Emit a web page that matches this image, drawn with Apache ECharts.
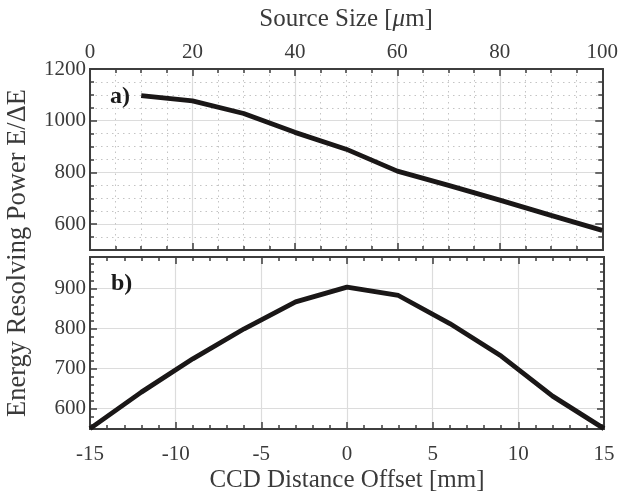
<!DOCTYPE html>
<html>
<head>
<meta charset="utf-8">
<script src="https://cdn.jsdelivr.net/npm/echarts@6/dist/echarts.min.js"></script>
<style>
html,body{margin:0;padding:0;background:#fff;}
#chart{width:621px;height:494px;}
</style>
</head>
<body>
<div id="chart"></div>
<script>
// ---- data ----
var sourceSize = [10, 20, 30, 40, 50, 60, 70, 80, 90, 100];
var powerA = [1097, 1077, 1028, 955, 890, 805, 750, 693, 634, 576];
var ccdOffset = [-15, -12, -9, -6, -3, 0, 3, 6, 9, 12, 15];
var powerB = [550, 641, 724, 799, 866, 903, 882, 812, 731, 631, 550];
var topTickLabels = [600, 800, 1000, 1200];
var bottomTickLabels = [600, 700, 800, 900];
var topMinorTicks = [550, 600, 650, 700, 750, 800, 850, 900, 950, 1000, 1050, 1100, 1150];
var bottomMinorTicks = [560, 580, 600, 620, 640, 660, 680, 700, 720, 740, 760, 780, 800, 820, 840, 860, 880, 900, 920, 940, 960];

var FONT = '"Liberation Serif", "Times New Roman", serif';
var AX = '#3d3d3d';
var TXT = '#3a3a3a';
var GRIDC = '#dcdcdc';

function pairs(xs, ys) { return xs.map(function (x, i) { return [x, ys[i]]; }); }
function plain(v) { return String(v); }

function xAx(grid, pos, min, max, interval, minorSplit, showLabel, name, nameGap, minorDotted, margin) {
  return {
    type: 'value', gridIndex: grid, position: pos, min: min, max: max, interval: interval,
    axisLine: { show: true, onZero: false, lineStyle: { color: AX, width: 2 } },
    axisTick: { show: true, inside: true, length: 7, lineStyle: { color: AX, width: 1.5 } },
    minorTick: { show: true, splitNumber: minorSplit, length: 4, lineStyle: { color: AX, width: 1.5 } },
    splitLine: { show: showLabel, lineStyle: { color: GRIDC, width: 1.2 } },
    minorSplitLine: { show: !!minorDotted, lineStyle: { color: '#c4c4c4', width: 1, type: [1.5, 4] } },
    axisLabel: { show: showLabel, margin: margin || 9, fontFamily: FONT, fontSize: 21, color: TXT, formatter: plain },
    name: name || '', nameLocation: 'middle', nameGap: nameGap || 0,
    nameTextStyle: {
      fontFamily: FONT, fontSize: 25, color: TXT,
      rich: {
        a: { fontFamily: FONT, fontSize: 25, color: TXT },
        i: { fontFamily: FONT, fontSize: 25, color: TXT, fontStyle: 'italic' }
      }
    }
  };
}

function yAx(grid, pos, min, max, ticks, len, showLabel, split) {
  var o = {
    type: 'value', gridIndex: grid, position: pos, min: min, max: max,
    axisLine: { show: true, onZero: false, lineStyle: { color: AX, width: 2 } },
    axisTick: { show: true, inside: true, length: len, customValues: ticks, lineStyle: { color: AX, width: 1.5 } },
    axisLabel: { show: showLabel, customValues: ticks, margin: 4, fontFamily: FONT, fontSize: 21, color: TXT, formatter: plain },
    splitLine: { show: false }
  };
  if (split === 'solid') o.splitLine = { show: true, lineStyle: { color: GRIDC, width: 1.2 } };
  if (split === 'dotted') o.splitLine = { show: true, lineStyle: { color: '#c4c4c4', width: 1, type: [1.5, 4] } };
  return o;
}

var chart = echarts.init(document.getElementById('chart'), null, { renderer: 'canvas' });
chart.setOption({
  animation: false,
  backgroundColor: '#fff',
  grid: [
    { left: 90, top: 69, width: 514, height: 181 },
    { left: 90, top: 257, width: 514, height: 181.5 }
  ],
  xAxis: [
    xAx(0, 'top', 0, 100, 20, 4, true, '{a|Source Size [}{i|μ}{a|m]}', 37, true, 6),
    xAx(0, 'bottom', 0, 100, 20, 4, false),
    xAx(1, 'bottom', -15, 15, 5, 5, true, 'CCD Distance Offset [mm]', 39, false, 15),
    xAx(1, 'top', -15, 15, 5, 5, false)
  ],
  yAxis: [
    yAx(0, 'left', 500, 1200, topMinorTicks, 4, false, 'dotted'),
    yAx(0, 'left', 500, 1200, topTickLabels, 7, true, 'solid'),
    yAx(0, 'right', 500, 1200, topMinorTicks, 4, false, null),
    yAx(0, 'right', 500, 1200, topTickLabels, 7, false, null),
    yAx(1, 'left', 549, 978, bottomMinorTicks, 4, false, null),
    yAx(1, 'left', 549, 978, bottomTickLabels, 7, true, 'solid'),
    yAx(1, 'right', 549, 978, bottomMinorTicks, 4, false, null),
    yAx(1, 'right', 549, 978, bottomTickLabels, 7, false, null)
  ],
  series: [
    {
      type: 'line', xAxisIndex: 0, yAxisIndex: 1, data: pairs(sourceSize, powerA),
      showSymbol: false, lineStyle: { color: '#1a1717', width: 4.8 }, z: 10
    },
    {
      type: 'line', xAxisIndex: 2, yAxisIndex: 5, data: pairs(ccdOffset, powerB),
      showSymbol: false, lineStyle: { color: '#1a1717', width: 4.8 }, z: 10
    }
  ],
  graphic: [
    { type: 'text', x: 18, y: 253, rotation: Math.PI / 2,
      style: { text: 'Energy Resolving Power E/ΔE', font: '26.5px ' + FONT, fill: TXT, textAlign: 'center', textVerticalAlign: 'middle' } },
    { type: 'text', x: 110, y: 97, z: 20,
      style: { text: 'a)', font: 'bold 24px ' + FONT, fill: '#1a1a1a', textAlign: 'left', textVerticalAlign: 'middle' } },
    { type: 'text', x: 111, y: 284, z: 20,
      style: { text: 'b)', font: 'bold 24px ' + FONT, fill: '#1a1a1a', textAlign: 'left', textVerticalAlign: 'middle' } }
  ]
});
</script>
</body>
</html>
